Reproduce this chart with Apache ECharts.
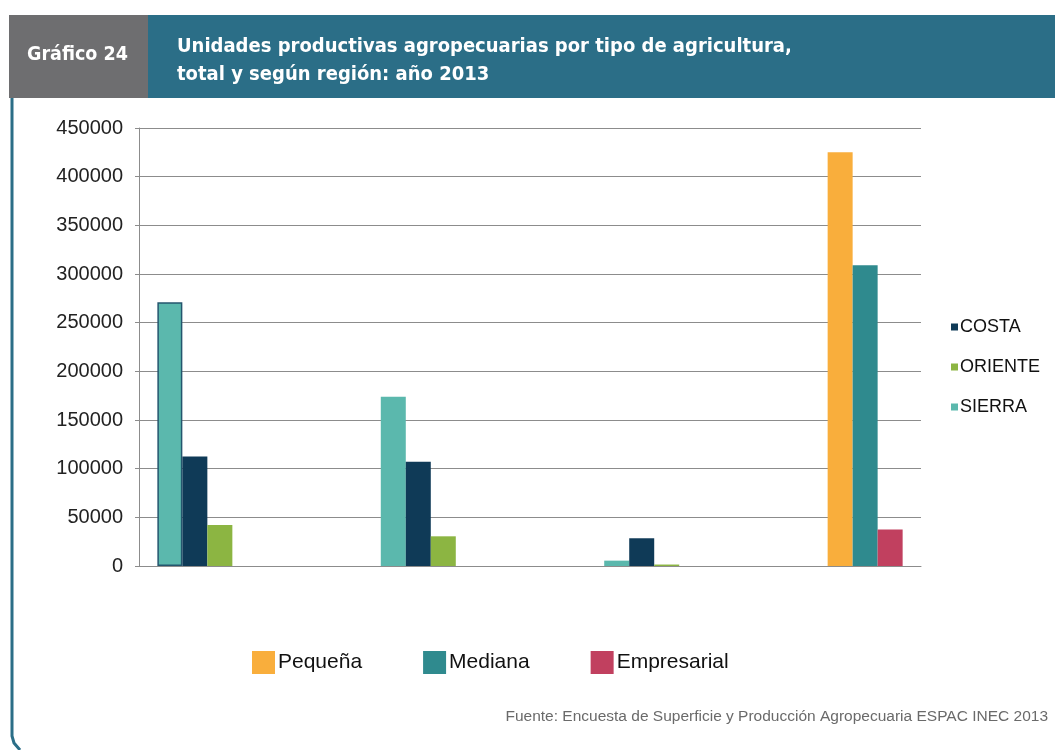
<!DOCTYPE html>
<html>
<head>
<meta charset="utf-8">
<script src="https://cdn.jsdelivr.net/npm/echarts@6/dist/echarts.min.js"></script>
<style>
html,body{margin:0;padding:0;background:#fff;}
#chart{width:1055px;height:750px;}
</style>
</head>
<body>
<div id="chart"></div>
<script>
// ---- data ----
const tipos = ['Pequeña', 'Mediana', 'Empresarial'];
const totalLabel = 'Total';
const sierra = [271000, 174000, 5500];
const costa = [112500, 107000, 28500];
const oriente = [42000, 30500, 1500];
const totalPorTipo = [425000, 309000, 37500];
const yTicks = [0, 50000, 100000, 150000, 200000, 250000, 300000, 350000, 400000, 450000];

// ---- build category layout (spacer categories between groups) ----
const categories = [];
tipos.forEach((t, i) => { categories.push(t); categories.push('sp' + i); });
categories.push(totalLabel);
function regionSeries(vals) {
  const out = [];
  vals.forEach(v => { out.push(v); out.push(null); });
  out.push(null);
  return out;
}
function totalSeries(idx) {
  return categories.map(c => c === totalLabel ? totalPorTipo[idx] : null);
}

const colors = {
  SIERRA: '#5bb8ad', COSTA: '#0f3a57', ORIENTE: '#8cb542',
  'Pequeña': '#f9ae3c', 'Mediana': '#2f8a8e', 'Empresarial': '#c1405f'
};

const sierraData = regionSeries(sierra).map((v, i) =>
  i === 0 ? { value: v, itemStyle: { borderColor: '#24566e', borderWidth: 1.5 } } : v);

const chart = echarts.init(document.getElementById('chart'));
const barBase = { type: 'bar', barWidth: 25, barGap: 0 };
const condensed = '"DejaVu Sans Condensed", "DejaVu Sans", "Liberation Sans", Arial, sans-serif';
chart.setOption({
  animation: false,
  textStyle: { fontFamily: 'Liberation Sans, Arial, sans-serif' },
  grid: { left: 139, right: 134, top: 128, bottom: 184 },
  xAxis: [
    { type: 'category', data: categories,
      axisLine: { show: true, lineStyle: { color: '#8c8c8c', width: 1 } },
      axisTick: { show: false }, axisLabel: { show: false } },
    { type: 'category', data: categories, show: false }
  ],
  yAxis: {
    type: 'value', min: yTicks[0], max: yTicks[yTicks.length - 1], interval: 50000,
    axisLine: { show: true, lineStyle: { color: '#8c8c8c' } },
    axisTick: { show: true, length: 4, lineStyle: { color: '#8c8c8c' } },
    axisLabel: { fontSize: 20, color: '#222', margin: 16, formatter: v => String(v) },
    splitLine: { lineStyle: { color: '#8c8c8c', width: 1 } }
  },
  legend: [
    { data: ['COSTA', 'ORIENTE', 'SIERRA'], orient: 'vertical', left: 946, top: 313,
      icon: 'rect', itemWidth: 7, itemHeight: 7, itemGap: 22, textStyle: { fontSize: 18, color: '#111', padding: [0,0,0,-3] } },
    { data: tipos, orient: 'horizontal', left: 247, top: 646,
      icon: 'rect', itemWidth: 23, itemHeight: 23, itemGap: 61, textStyle: { fontSize: 21, color: '#111', padding: [0,0,0,-2] } }
  ],
  series: [
    Object.assign({}, barBase, { name: 'SIERRA', xAxisIndex: 0, data: sierraData, itemStyle: { color: colors.SIERRA } }),
    Object.assign({}, barBase, { name: 'COSTA', xAxisIndex: 0, data: regionSeries(costa), itemStyle: { color: colors.COSTA } }),
    Object.assign({}, barBase, { name: 'ORIENTE', xAxisIndex: 0, data: regionSeries(oriente), itemStyle: { color: colors.ORIENTE } }),
    Object.assign({}, barBase, { name: 'Pequeña', xAxisIndex: 1, data: totalSeries(0), itemStyle: { color: colors['Pequeña'] } }),
    Object.assign({}, barBase, { name: 'Mediana', xAxisIndex: 1, data: totalSeries(1), itemStyle: { color: colors['Mediana'] } }),
    Object.assign({}, barBase, { name: 'Empresarial', xAxisIndex: 1, data: totalSeries(2), itemStyle: { color: colors['Empresarial'] } })
  ],
  graphic: [
    { type: 'rect', shape: { x: 148, y: 15, width: 907, height: 83 }, style: { fill: '#2b6e87' }, z: 1 },
    { type: 'rect', shape: { x: 9, y: 15, width: 139, height: 83 }, style: { fill: '#6e6e70' }, z: 1 },
    { type: 'text', left: 27, top: 45, z: 2,
      style: { text: 'Gráfico 24', fill: '#fff', font: 'bold 19.5px ' + condensed } },
    { type: 'text', left: 177, top: 33, z: 2,
      style: { text: 'Unidades productivas agropecuarias por tipo de agricultura,\ntotal y según región: año 2013',
               fill: '#fff', lineHeight: 28, font: 'bold 20px ' + condensed } },
    { type: 'polyline', shape: { points: [[12, 98], [12, 736], [14, 743], [20, 750]] },
      style: { stroke: '#2b6e87', lineWidth: 3, fill: null }, z: 1 },
    { type: 'text', right: 7, top: 709, z: 2,
      style: { text: 'Fuente: Encuesta de Superficie y Producción Agropecuaria ESPAC INEC 2013', fill: '#6a6a6a',
               font: '15.5px "Liberation Sans", Arial, sans-serif' } }
  ]
});
</script>
</body>
</html>
